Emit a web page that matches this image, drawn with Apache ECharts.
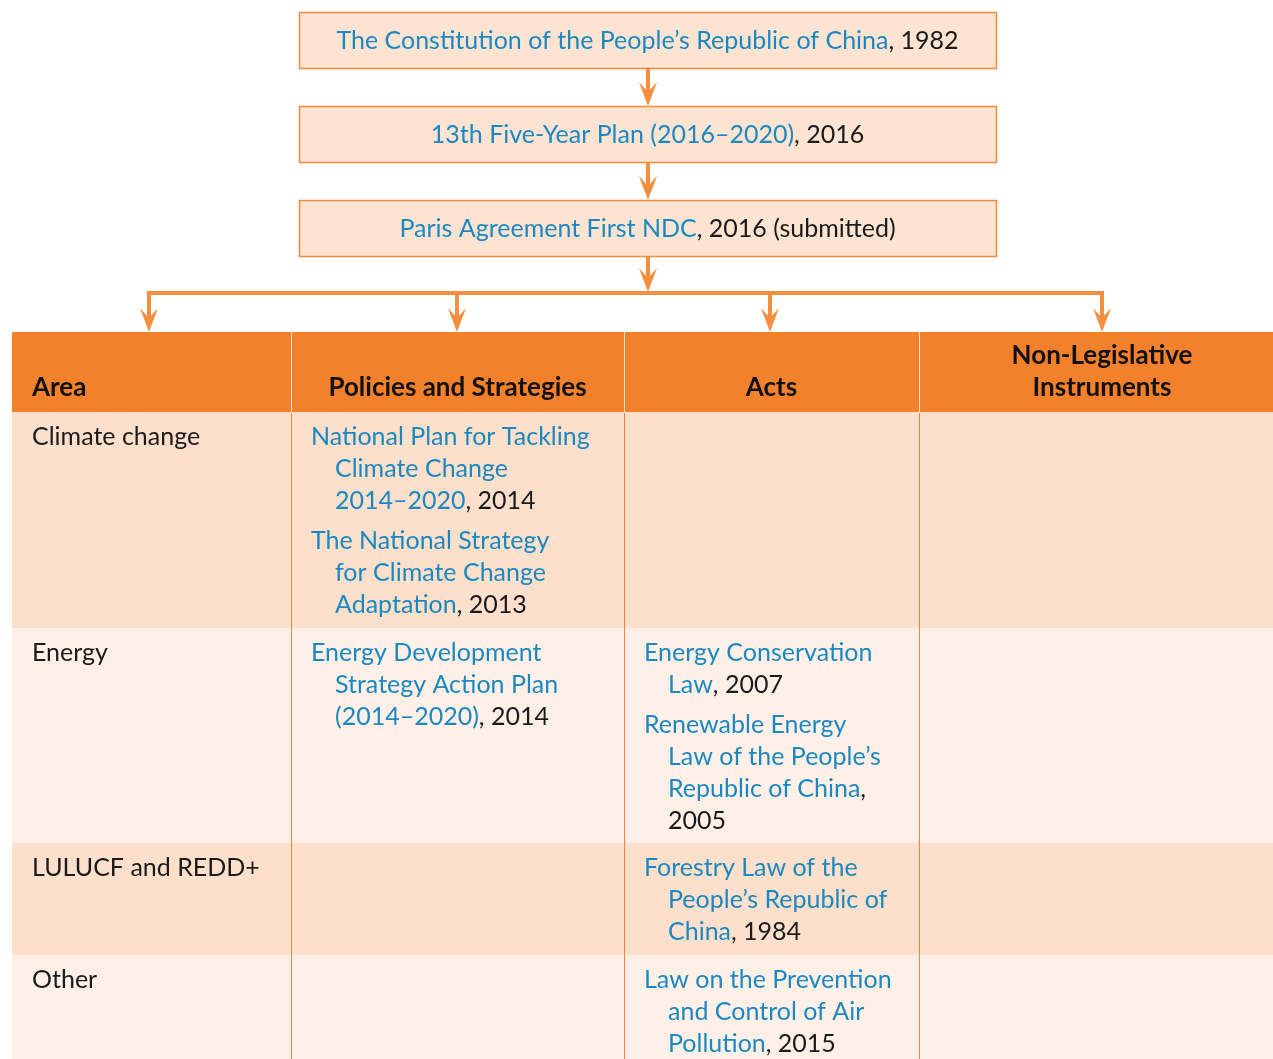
<!DOCTYPE html>
<html><head><meta charset="utf-8">
<script src="https://cdn.jsdelivr.net/npm/echarts@6/dist/echarts.min.js"></script>
<style>html,body{margin:0;padding:0;background:#fff;}#c{width:1273px;height:1059px;}</style>
</head><body><div id="c"></div>
<script>
// ---- content ----
const topDocs = [
  ["The Constitution of the People’s Republic of China", ", 1982"],
  ["13th Five-Year Plan (2016–2020)", ", 2016"],
  ["Paris Agreement First NDC", ", 2016 (submitted)"]
];
const columnTitles = [["Area"], ["Policies and Strategies"], ["Acts"], ["Non-Legislative", "Instruments"]];
const areas = ["Climate change", "Energy", "LULUCF and REDD+", "Other"];
const policies = [
  [ [["National Plan for Tackling", ""], ["Climate Change", ""], ["2014–2020", ", 2014"]],
    [["The National Strategy", ""], ["for Climate Change", ""], ["Adaptation", ", 2013"]] ],
  [ [["Energy Development", ""], ["Strategy Action Plan", ""], ["(2014–2020)", ", 2014"]] ],
  [],
  []
];
const acts = [
  [],
  [ [["Energy Conservation", ""], ["Law", ", 2007"]],
    [["Renewable Energy", ""], ["Law of the People’s", ""], ["Republic of China", ","], ["", "2005"]] ],
  [ [["Forestry Law of the", ""], ["People’s Republic of", ""], ["China", ", 1984"]] ],
  [ [["Law on the Prevention", ""], ["and Control of Air", ""], ["Pollution", ", 2015"]] ]
];
const instruments = [[], [], [], []];

// ---- layout / style ----
const FONT = 'Lato';
const BLUE = '#1B88C1', INK = '#1a1a1a', ORANGE = '#F3802B', ARROW = '#F58E3E';
const colX = [12, 291, 624, 919, 1285];
const rowY = [332, 412, 628, 843, 955, 1100];
const rowFill = ['#FCE0CB', '#FEF0E7', '#FCE0CB', '#FEF0E7'];
const boxX = 299, boxW = 697, boxYs = [12, 106, 200], boxH = 56;
const FS = 25;

const g = [];
function arrowHead(x, y) {
  g.push({type: 'polygon', shape: {points: [[x, y], [x - 9, y - 24], [x, y - 14], [x + 9, y - 24]]},
          style: {fill: ARROW}, z: 5});
}
function vline(x, y1, y2, color, w, z) {
  g.push({type: 'line', shape: {x1: x, y1: y1, x2: x, y2: y2}, style: {stroke: color, lineWidth: w}, z: z || 3});
}
const rich = {
  b: {fill: BLUE, fontFamily: FONT, fontSize: FS},
  k: {fill: INK, fontFamily: FONT, fontSize: FS}
};
function seg(pair) {
  let s = '';
  if (pair[0]) s += '{b|' + pair[0] + '}';
  if (pair[1]) s += '{k|' + pair[1] + '}';
  return s;
}

// top boxes
topDocs.forEach((d, i) => {
  const y = boxYs[i];
  g.push({type: 'rect', shape: {x: boxX + 0.5, y: y + 0.5, width: boxW, height: boxH},
          style: {fill: '#FDE4D2', stroke: '#F5883A', lineWidth: 1.5}, z: 2});
  g.push({type: 'text', x: boxX + boxW / 2, y: y + boxH / 2 + 1, z: 4,
          style: {text: seg(d), rich: rich, align: 'center', verticalAlign: 'middle'}});
});
// connectors between boxes
const cx = 648;
for (let i = 0; i < 2; i++) {
  vline(cx, boxYs[i] + boxH + 1, boxYs[i + 1] - 12, ARROW, 4);
  arrowHead(cx, boxYs[i + 1]);
}
vline(cx, boxYs[2] + boxH + 1, 281, ARROW, 4);
arrowHead(cx, 292);
// horizontal branch
const branchY = 293;
const arrowXs = [149, 457, 770, 1102];
g.push({type: 'line', shape: {x1: arrowXs[0] - 2, y1: branchY, x2: arrowXs[3] + 2, y2: branchY},
        style: {stroke: ARROW, lineWidth: 4}, z: 3});
arrowXs.forEach(x => { vline(x, branchY, 320, ARROW, 4); arrowHead(x, 332); });

// header
g.push({type: 'rect', shape: {x: colX[0], y: rowY[0], width: colX[4] - colX[0], height: rowY[1] - rowY[0]},
        style: {fill: ORANGE}, z: 1});
// body rows
areas.forEach((a, r) => {
  g.push({type: 'rect', shape: {x: colX[0], y: rowY[r + 1], width: colX[4] - colX[0], height: rowY[r + 2] - rowY[r + 1]},
          style: {fill: rowFill[r]}, z: 1});
});
// dividers
for (let c = 1; c < 4; c++) {
  vline(colX[c] + 0.5, rowY[0], rowY[1], '#FDE6D6', 1, 2);
  vline(colX[c] + 0.5, rowY[1], rowY[5], '#F2853A', 1, 2);
}
g.push({type: 'line', shape: {x1: colX[0], y1: rowY[1] + 0.5, x2: colX[4], y2: rowY[1] + 0.5},
        style: {stroke: '#FBD9C3', lineWidth: 1}, z: 2});

// header titles
columnTitles.forEach((t, c) => {
  const n = t.length;
  t.forEach((line, j) => {
    const y = 388 - (n - 1 - j) * 32;
    const left = c === 0;
    g.push({type: 'text', x: left ? colX[0] + 20 : (c === 3 ? 1102 : (colX[c] + colX[c + 1]) / 2), y: y, z: 4,
            style: {text: line, fill: '#111', fontFamily: FONT, fontWeight: 'bold', fontSize: 26,
                    align: left ? 'left' : 'center', verticalAlign: 'middle'}});
  });
});

// body text
const LH = 32, GAP = 40, FIRST = 25, INDENT = 24;
function drawEntries(entries, c, r) {
  let y = rowY[r + 1] + FIRST;
  entries.forEach((entry, e) => {
    if (e > 0) y += GAP - LH;
    entry.forEach((line, j) => {
      g.push({type: 'text', x: colX[c] + 20 + (j > 0 ? INDENT : 0), y: y, z: 4,
              style: {text: seg(line), rich: rich, align: 'left', verticalAlign: 'middle'}});
      y += LH;
    });
  });
}
areas.forEach((a, r) => {
  g.push({type: 'text', x: colX[0] + 20, y: rowY[r + 1] + FIRST, z: 4,
          style: {text: a, fill: INK, fontFamily: FONT, fontSize: FS, align: 'left', verticalAlign: 'middle'}});
  drawEntries(policies[r], 1, r);
  drawEntries(acts[r], 2, r);
  drawEntries(instruments[r], 3, r);
});

const chart = echarts.init(document.getElementById('c'), null, {renderer: 'canvas'});
chart.setOption({backgroundColor: '#ffffff', animation: false, graphic: {elements: g}});
</script></body></html>
